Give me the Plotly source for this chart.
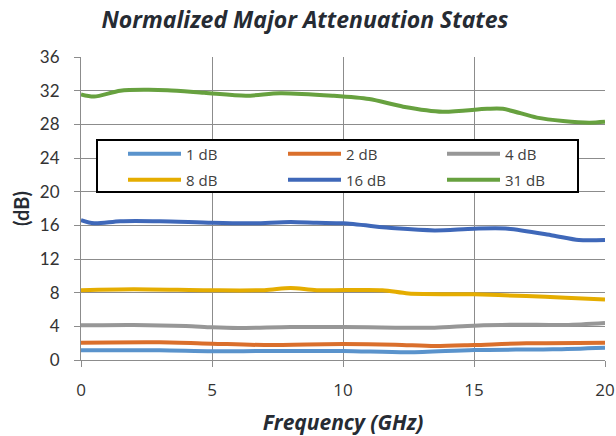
import plotly.graph_objects as go

freq_1 = [0, 3, 5, 7, 10, 12.5, 15, 18, 20]
db_1 = [1.15, 1.15, 1.03, 1.07, 1.07, 0.91, 1.19, 1.27, 1.47]

freq_2 = [0, 3, 5, 7, 10, 12, 13.5, 15, 17, 20]
db_2 = [2.06, 2.1, 1.94, 1.78, 1.9, 1.82, 1.66, 1.78, 1.98, 2.06]

freq_4 = [0, 2, 4, 5, 6, 8, 10, 12, 13.5, 15, 16.5, 18.5, 20]
db_4 = [4.12, 4.16, 4.04, 3.88, 3.8, 3.92, 3.92, 3.84, 3.84, 4.08, 4.2, 4.16, 4.4]

freq_8 = [0, 2, 5, 7, 8, 9, 11.5, 12.5, 15, 17, 18.5, 20]
db_8 = [8.3, 8.4, 8.28, 8.3, 8.55, 8.3, 8.3, 7.9, 7.8, 7.6, 7.4, 7.2]

freq_16 = [0, 0.5, 1.5, 3, 5, 6.5, 8, 9, 10, 12, 13.5, 15, 16.3, 18, 19, 20]
db_16 = [16.63, 16.24, 16.5, 16.5, 16.3, 16.24, 16.4, 16.3, 16.24, 15.64, 15.4, 15.6, 15.6, 14.8, 14.26, 14.26]

freq_31 = [0, 0.5, 1.5, 2.5, 3.3, 4.7, 6.3, 7.6, 9.6, 11, 12.3, 13.8, 15.5, 16.1, 17.4, 18.4, 19.4, 20]
db_31 = [31.55, 31.3, 32.0, 32.1, 32.05, 31.75, 31.4, 31.7, 31.4, 31.0, 30.1, 29.5, 29.85, 29.85, 28.8, 28.4, 28.2, 28.3]

series_names = ["1 dB", "2 dB", "4 dB", "8 dB", "16 dB", "31 dB"]
series_x = [freq_1, freq_2, freq_4, freq_8, freq_16, freq_31]
series_y = [db_1, db_2, db_4, db_8, db_16, db_31]
colors = ["#5A93CC", "#DA6F2C", "#979797", "#E5AD00", "#3F68B9", "#67A13F"]

title_font = "Open Sans"
num_font = "Lato"

# plot area in pixels
L, R, T, B = 81, 605, 57, 360
PW, PH = R - L, B - T

fig = go.Figure()
legend_names = ["legend", "legend2", "legend3", "legend4", "legend5", "legend6"]
for i in range(6):
    fig.add_trace(go.Scatter(
        x=series_x[i], y=series_y[i], name=series_names[i], mode="lines",
        line=dict(color=colors[i], width=4, shape="spline", smoothing=0.8),
        legend=legend_names[i],
    ))

col_px = [123, 283, 442]
row_px = [154, 180]
legends = {}
for i, ln in enumerate(legend_names):
    legends[ln] = dict(
        x=(col_px[i % 3] - L) / PW, y=(B - row_px[i // 3]) / PH,
        xanchor="left", yanchor="middle",
        bgcolor="rgba(0,0,0,0)", borderwidth=0,
        font=dict(family=title_font, size=15, color="#404040"),
        itemwidth=53, itemclick=False, itemdoubleclick=False,
    )

fig.update_layout(
    width=616, height=436,
    margin=dict(l=L, r=616 - R, t=T, b=436 - B, autoexpand=False),
    paper_bgcolor="white", plot_bgcolor="white",
    title=dict(text="<b><i>Normalized Major Attenuation States</i></b>",
               x=305 / 616, xref="container", xanchor="center",
               y=1 - 20 / 436, yref="container", yanchor="middle",
               font=dict(family=title_font, size=23, color="#262b33")),
    showlegend=True,
    shapes=[dict(type="rect", xref="paper", yref="paper",
                 x0=(97 - L) / PW, x1=(578 - L) / PW,
                 y0=(B - 192) / PH, y1=(B - 140) / PH,
                 line=dict(color="black", width=2), fillcolor="white", layer="above")],
    **legends,
)

fig.update_xaxes(
    range=[0, 20], dtick=5, tick0=0, automargin=False,
    showgrid=True, gridcolor="#8c8c8c", gridwidth=1,
    showline=True, linecolor="#8c8c8c", linewidth=1, mirror=False,
    zeroline=False,
    ticks="outside", ticklen=6, tickcolor="#8c8c8c",
    ticklabelstandoff=9,
    tickfont=dict(family=title_font, size=17, color="#333333"),
    title=dict(text="<b><i>Frequency (GHz)</i></b>", standoff=14,
               font=dict(family=title_font, size=21, color="#262b33")),
)
fig.update_yaxes(
    range=[0, 36], dtick=4, tick0=0, automargin=False,
    showgrid=True, gridcolor="#8c8c8c", gridwidth=1,
    showline=True, linecolor="#8c8c8c", linewidth=1,
    zeroline=False,
    ticks="outside", ticklen=6, tickcolor="#8c8c8c",
    ticklabelstandoff=11,
    tickfont=dict(family=num_font, size=17, color="#333333"),
    title=dict(text="<b>(dB)</b>", standoff=4,
               font=dict(family=num_font, size=20, color="#262b33")),
)

fig.write_html("out.html", config={"displayModeBar": False},
               post_script="document.body.style.margin='0';document.body.style.overflow='hidden';")
